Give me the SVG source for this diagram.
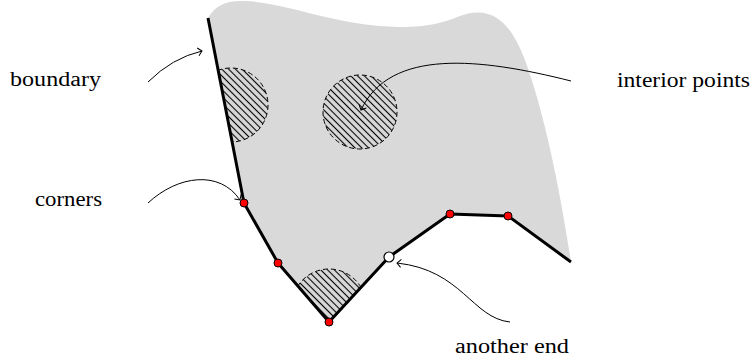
<svg xmlns="http://www.w3.org/2000/svg" width="755" height="364" viewBox="0 0 755 364">
<style>
text{font-family:'Liberation Serif','DejaVu Serif',serif;font-size:20px;fill:#000}
.arr{fill:none;stroke:#000;stroke-width:1;marker-end:url(#ah)}
.hc{fill:url(#hatch);stroke:#000;stroke-width:1;stroke-dasharray:5 3}
.red{fill:#ff0000;stroke:#000;stroke-width:1}
.wht{fill:#fff;stroke:#000;stroke-width:1.2}
</style>
<defs>
<pattern id="hatch" patternUnits="userSpaceOnUse" width="4.8" height="4.8" patternTransform="rotate(45)">
<line x1="0" y1="2.4" x2="4.8" y2="2.4" stroke="#000" stroke-width="1.1"/>
</pattern>
<marker id="ah" markerUnits="userSpaceOnUse" markerWidth="12" markerHeight="12" refX="0" refY="0" viewBox="-6 -6 12 12" orient="auto">
<path d="M-4,-4 Q-1,-1 0,0 Q-1,1 -4,4" fill="none" stroke="#000" stroke-width="1"/>
</marker>
<clipPath id="reg">
<path d="M208,18 C215,6 225,0 245,1 C290,3 330,25 400,27 C430,27 445,22 460,16 C490,5 510,20 525,60 C545,115 560,190 571,262 L508,216 L450,214 L389,257 L329,322 L278,263 L244,203 Z"/>
</clipPath>
</defs>
<g id="region">
<path d="M208,18 C215,6 225,0 245,1 C290,3 330,25 400,27 C430,27 445,22 460,16 C490,5 510,20 525,60 C545,115 560,190 571,262 L508,216 L450,214 L389,257 L329,322 L278,263 L244,203 Z" fill="#d9d9d9"/>
</g>
<g id="hatched" clip-path="url(#reg)">
<circle class="hc" cx="231" cy="105" r="37"/>
<circle class="hc" cx="360" cy="112" r="37"/>
<circle class="hc" cx="329" cy="306" r="37"/>
</g>
<g id="boundary">
<polyline points="208,18 244,203 278,263 329,322 389,257 450,214 508,216 571,262" fill="none" stroke="#000" stroke-width="3" stroke-linejoin="round"/>
</g>
<g id="connectors">
<path class="arr" d="M148,82 Q172,58 202,51"/>
<path class="arr" d="M148,203 C178,175 220,170 240,200"/>
<path class="arr" d="M571,81 C480,58 390,48 361,110"/>
<path class="arr" d="M510,322 C472,318 462,270 397,263"/>
</g>
<g id="points">
<circle class="red" cx="244" cy="203" r="4"/>
<circle class="red" cx="278" cy="263" r="4"/>
<circle class="red" cx="329" cy="322" r="4"/>
<circle class="red" cx="450" cy="214" r="4"/>
<circle class="red" cx="508" cy="216" r="4"/>
<circle class="wht" cx="389" cy="257" r="5"/>
</g>
<g id="labels">
<text x="10" y="86" textLength="91" lengthAdjust="spacingAndGlyphs">boundary</text>
<text x="35" y="206" textLength="67" lengthAdjust="spacingAndGlyphs">corners</text>
<text x="617" y="87" textLength="133" lengthAdjust="spacingAndGlyphs">interior points</text>
<text x="455" y="353" textLength="114" lengthAdjust="spacingAndGlyphs">another end</text>
</g>
</svg>
